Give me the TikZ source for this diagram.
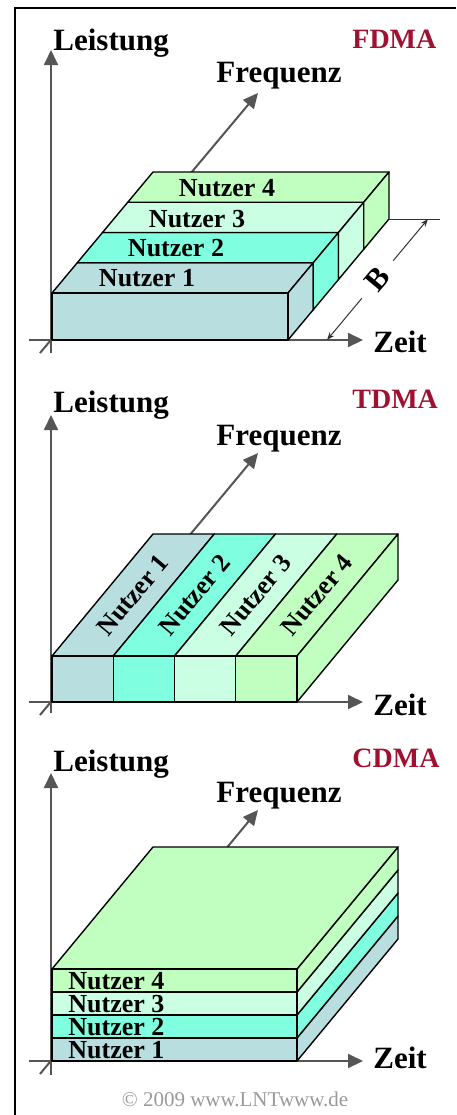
\documentclass[tikz,border=0pt]{standalone}
\usepackage{fontspec}
\setmainfont{Liberation Serif}
\usetikzlibrary{arrows.meta}
\definecolor{nutzA}{RGB}{185,222,224}
\definecolor{nutzB}{RGB}{127,255,224}
\definecolor{nutzC}{RGB}{202,255,228}
\definecolor{nutzD}{RGB}{192,255,192}
\definecolor{achsgrau}{RGB}{85,85,85}
\definecolor{lntrot}{RGB}{160,16,48}
\tikzstyle{achse} = [draw=achsgrau, line width=1pt, -{Triangle[length=7.5pt,width=7pt]}]
\tikzstyle{kante} = [draw=black, line width=0.7pt, line join=round]
\tikzstyle{u1} = [kante, fill=nutzA]
\tikzstyle{u2} = [kante, fill=nutzB]
\tikzstyle{u3} = [kante, fill=nutzC]
\tikzstyle{u4} = [kante, fill=nutzD]
\tikzstyle{lbl} = [font=\fontsize{15.5}{18}\selectfont\bfseries, inner sep=0pt]
\tikzstyle{titel} = [font=\fontsize{14}{16}\selectfont\bfseries, text=lntrot, inner sep=0pt]
\tikzstyle{nutzer} = [font=\fontsize{13}{15}\selectfont\bfseries, inner sep=0pt]
\tikzstyle{duenn} = [draw=black!80, line width=0.5pt]
\tikzstyle{bpfeil} = [draw=black!80, line width=0.5pt, {Stealth[length=4pt,width=3pt]}-{Stealth[length=4pt,width=3pt]}]
\tikzstyle{kopie} = [font=\fontsize{10.5}{12}\selectfont, text=black!40, inner sep=0pt]
\tikzstyle{rahmen} = [draw=black, line width=1pt]

\begin{document}
\begin{tikzpicture}[x=0.5pt, y=-0.5pt]
\useasboundingbox (0,0) rectangle (456,1115);

\coordinate (r_a) at (15,1115);
\coordinate (r_b) at (15,8);
\coordinate (r_c) at (456,8);
\draw [rahmen] (r_a) -- (r_b) -- (r_c);

% FDMA
\coordinate (f_u) at (51,353);
\coordinate (f_o) at (51,50);
\coordinate (f_l) at (29,340);
\coordinate (f_r) at (363,340);
\coordinate (f_h) at (40,353);
\coordinate (f_v) at (258,93);
\draw [achse] (f_u) -- (f_o);
\draw [achse] (f_l) -- (f_r);
\draw [achse] (f_h) -- (f_v);

\filldraw [u1] (52,293) -- (288,293) -- (313.25,262.75) -- (77.25,262.75) -- cycle;
\filldraw [u2] (77.25,262.75) -- (313.25,262.75) -- (338.5,232.5) -- (102.5,232.5) -- cycle;
\filldraw [u3] (102.5,232.5) -- (338.5,232.5) -- (363.75,202.25) -- (127.75,202.25) -- cycle;
\filldraw [u4] (127.75,202.25) -- (363.75,202.25) -- (389,172) -- (153,172) -- cycle;
\filldraw [u1] (288,293) -- (313.25,262.75) -- (313.25,309.75) -- (288,340) -- cycle;
\filldraw [u2] (313.25,262.75) -- (338.5,232.5) -- (338.5,279.5) -- (313.25,309.75) -- cycle;
\filldraw [u3] (338.5,232.5) -- (363.75,202.25) -- (363.75,249.25) -- (338.5,279.5) -- cycle;
\filldraw [u4] (363.75,202.25) -- (389,172) -- (389,219) -- (363.75,249.25) -- cycle;
\filldraw [u1] (52,293) rectangle (288,340);

\node (f_n1) [nutzer] at (147,278) {Nutzer 1};
\node (f_n2) [nutzer] at (176,248) {Nutzer 2};
\node (f_n3) [nutzer] at (197,219) {Nutzer 3};
\node (f_n4) [nutzer] at (227,188) {Nutzer 4};

\coordinate (f_b0) at (389,219);
\coordinate (f_b1) at (440,219);
\coordinate (f_p) at (327,340);
\coordinate (f_q) at (428,219);
\draw [duenn] (f_b0) -- (f_b1);
\draw [bpfeil] (f_p) -- (f_q) node (f_B) [midway, lbl, fill=white, rotate=50, inner xsep=7pt, inner ysep=1pt] {B};

\node (f_lei) [lbl, anchor=base west] at (53,50) {Leistung};
\node (f_fre) [lbl, anchor=base west] at (216,82) {Frequenz};
\node (f_zeit) [lbl, anchor=base west] at (373,352) {Zeit};
\node (f_tit) [titel, anchor=base west] at (352,48) {FDMA};

% TDMA
\coordinate (t_u) at (51,713);
\coordinate (t_o) at (51,415);
\coordinate (t_l) at (29,702);
\coordinate (t_r) at (363,702);
\coordinate (t_h) at (40,715);
\coordinate (t_v) at (258,453);
\draw [achse] (t_u) -- (t_o);
\draw [achse] (t_l) -- (t_r);
\draw [achse] (t_h) -- (t_v);

\filldraw [u1] (52,656) -- (113.25,656) -- (214.25,534) -- (153,534) -- cycle;
\filldraw [u2] (113.25,656) -- (174.5,656) -- (275.5,534) -- (214.25,534) -- cycle;
\filldraw [u3] (174.5,656) -- (235.75,656) -- (336.75,534) -- (275.5,534) -- cycle;
\filldraw [u4] (235.75,656) -- (297,656) -- (398,534) -- (336.75,534) -- cycle;
\filldraw [u4] (297,656) -- (398,534) -- (398,580) -- (297,702) -- cycle;
\filldraw [u1] (52,656) rectangle (113.25,702);
\filldraw [u2] (113.25,656) rectangle (174.5,702);
\filldraw [u3] (174.5,656) rectangle (235.75,702);
\filldraw [u4] (235.75,656) rectangle (297,702);

\node (t_n1) [nutzer, rotate=50] at (133,595) {Nutzer 1};
\node (t_n2) [nutzer, rotate=50] at (194.4,595) {Nutzer 2};
\node (t_n3) [nutzer, rotate=50] at (255.6,595) {Nutzer 3};
\node (t_n4) [nutzer, rotate=50] at (316.9,595) {Nutzer 4};

\node (t_lei) [lbl, anchor=base west] at (53,412) {Leistung};
\node (t_fre) [lbl, anchor=base west] at (216,445) {Frequenz};
\node (t_zeit) [lbl, anchor=base west] at (373,715) {Zeit};
\node (t_tit) [titel, anchor=base west] at (352,408) {TDMA};

% CDMA
\coordinate (c_u) at (51,1075);
\coordinate (c_o) at (51,773);
\coordinate (c_l) at (29,1061);
\coordinate (c_r) at (363,1061);
\coordinate (c_h) at (40,1074);
\coordinate (c_v) at (258,810);
\draw [achse] (c_u) -- (c_o);
\draw [achse] (c_l) -- (c_r);
\draw [achse] (c_h) -- (c_v);

\filldraw [u1] (297,1038) -- (398,916) -- (398,939) -- (297,1061) -- cycle;
\filldraw [u2] (297,1015) -- (398,893) -- (398,916) -- (297,1038) -- cycle;
\filldraw [u3] (297,992) -- (398,870) -- (398,893) -- (297,1015) -- cycle;
\filldraw [u4] (297,969) -- (398,847) -- (398,870) -- (297,992) -- cycle;
\filldraw [u4] (52,969) -- (297,969) -- (398,847) -- (153,847) -- cycle;
\filldraw [u1] (52,1038) rectangle (297,1061);
\filldraw [u2] (52,1015) rectangle (297,1038);
\filldraw [u3] (52,992) rectangle (297,1015);
\filldraw [u4] (52,969) rectangle (297,992);

\node (c_n1) [nutzer, anchor=west] at (68,1050) {Nutzer 1};
\node (c_n2) [nutzer, anchor=west] at (68,1027) {Nutzer 2};
\node (c_n3) [nutzer, anchor=west] at (68,1004) {Nutzer 3};
\node (c_n4) [nutzer, anchor=west] at (68,981) {Nutzer 4};

\node (c_lei) [lbl, anchor=base west] at (53,771) {Leistung};
\node (c_fre) [lbl, anchor=base west] at (216,802) {Frequenz};
\node (c_zeit) [lbl, anchor=base west] at (373,1068) {Zeit};
\node (c_tit) [titel, anchor=base west] at (352,767) {CDMA};

\node (kopie) [kopie, anchor=base] at (235,1106) {© 2009 www.LNTwww.de};

\end{tikzpicture}
\end{document}
